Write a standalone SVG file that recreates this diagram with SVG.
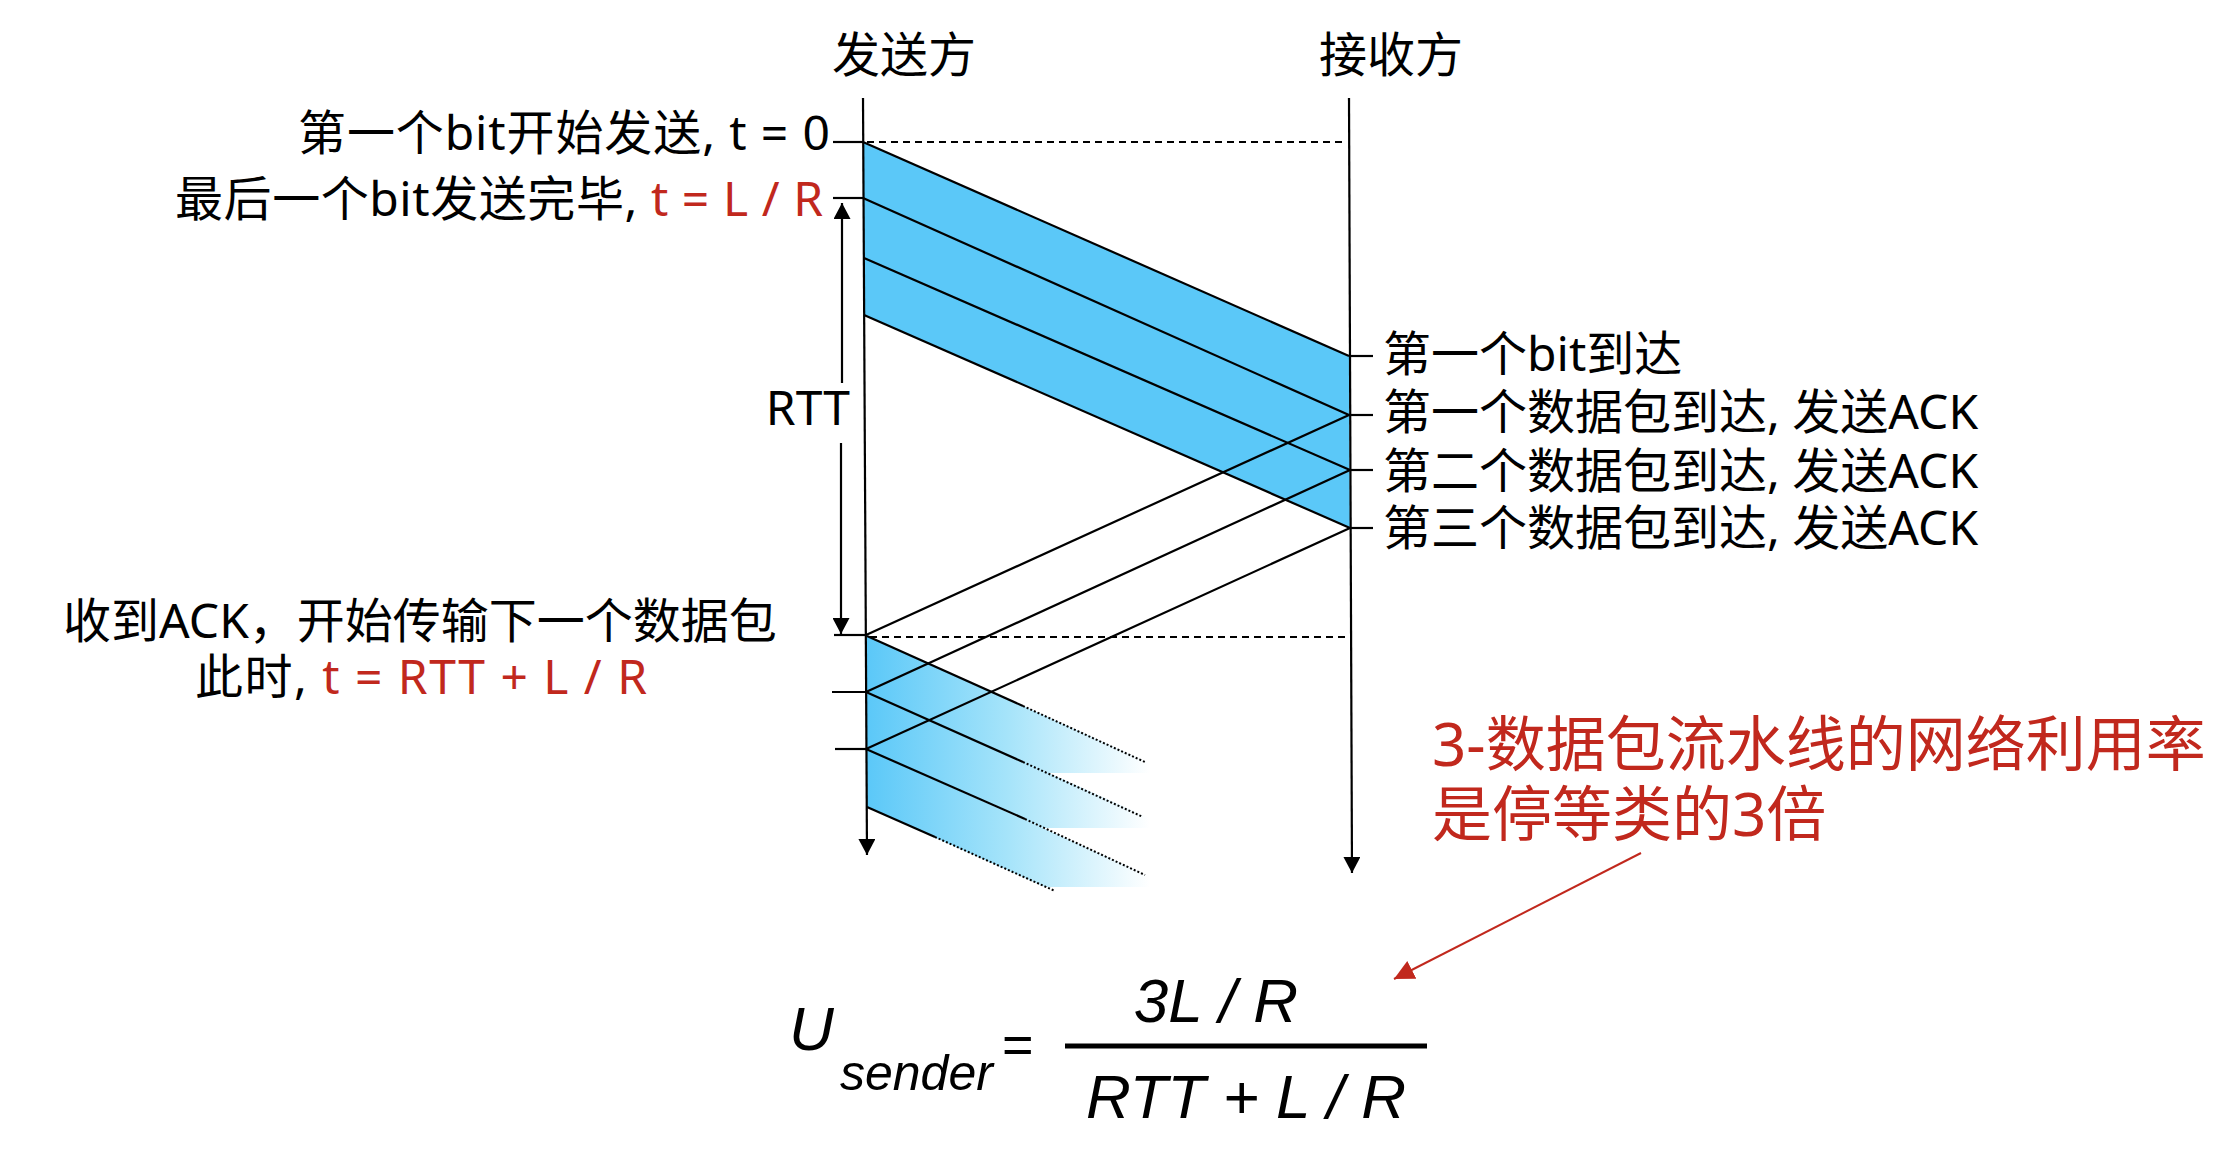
<svg xmlns="http://www.w3.org/2000/svg" width="2228" height="1150" viewBox="0 0 2228 1150">
<style>
.t{font-family:'Noto Sans','Noto Sans CJK SC',sans-serif;font-size:48px;fill:#000}
.red{fill:#C1281D}
.rt{font-family:'Noto Sans','Noto Sans CJK SC',sans-serif;font-size:60px;fill:#C1281D}
.m{font-family:'Liberation Sans',Arial,sans-serif;font-style:italic;fill:#000}
.ln{stroke:#000;stroke-width:2.2;fill:none}
.dash{stroke:#000;stroke-width:2.2;stroke-dasharray:7 5;fill:none}
.dot{stroke:#000;stroke-width:2;stroke-dasharray:2 2;fill:none}
.band{fill:#5BC8F8;stroke:none}
</style>
<defs>
<marker id="ah" markerUnits="userSpaceOnUse" viewBox="0 0 16 17" refX="16" refY="8.5" markerWidth="16" markerHeight="17" orient="auto">
<path d="M0,0 L16,8.5 L0,17 z" fill="#000"/>
</marker>
<marker id="ahr" markerUnits="userSpaceOnUse" viewBox="0 0 20 20" refX="20" refY="10" markerWidth="20" markerHeight="20" orient="auto">
<path d="M0,0 L20,10 L0,20 z" fill="#C1281D"/>
</marker>
<linearGradient id="fade" gradientUnits="userSpaceOnUse" x1="867" y1="0" x2="1150" y2="0">
<stop offset="0" stop-color="#5BC8F8"/>
<stop offset="0.5" stop-color="#A6E4FA"/>
<stop offset="1" stop-color="#FFFFFF"/>
</linearGradient>
</defs>
<rect width="2228" height="1150" fill="#fff"/>

<g id="packets-fill">
<polygon class="band" points="863,142 1349,356 1350,528 864,315"/>
<polygon fill="url(#fade)" points="867,636 1150,763 1150,773 1047,773 866,692"/>
<polygon fill="url(#fade)" points="866,692 1150,818 1150,828 1043,828 866,749"/>
<polygon fill="url(#fade)" points="866,749 1150,876 1150,887 1045,887 867,807"/>
</g>

<g id="sender">
<line class="ln" x1="863" y1="98" x2="867" y2="855" marker-end="url(#ah)"/>
<text class="t" x="904" y="72" text-anchor="middle">发送方</text>
</g>
<g id="receiver">
<line class="ln" x1="1349" y1="98" x2="1352" y2="873" marker-end="url(#ah)"/>
<text class="t" x="1391" y="72" text-anchor="middle">接收方</text>
</g>

<g id="connectors">
<line class="ln" x1="863" y1="142" x2="1349" y2="356"/>
<line class="ln" x1="863" y1="198" x2="1349" y2="415"/>
<line class="ln" x1="864" y1="258" x2="1350" y2="470"/>
<line class="ln" x1="864" y1="315" x2="1350" y2="528"/>
<line class="ln" x1="1349" y1="415" x2="866" y2="635"/>
<line class="ln" x1="1350" y1="470" x2="866" y2="692"/>
<line class="ln" x1="1350" y1="528" x2="866" y2="749"/>
<line class="ln" x1="867" y1="636" x2="1023" y2="706"/>
<line class="dot" x1="1023" y1="706" x2="1145" y2="762"/>
<line class="ln" x1="866" y1="692" x2="1023" y2="762"/>
<line class="dot" x1="1023" y1="762" x2="1143" y2="817"/>
<line class="ln" x1="866" y1="749" x2="1025" y2="819"/>
<line class="dot" x1="1025" y1="819" x2="1145" y2="875"/>
<line class="ln" x1="867" y1="807" x2="935" y2="837"/>
<line class="dot" x1="935" y1="837" x2="1055" y2="891"/>
<line class="dash" x1="867" y1="142" x2="1343" y2="142"/>
<line class="dash" x1="870" y1="637" x2="1345" y2="637"/>
<line class="ln" x1="833" y1="142" x2="863" y2="142"/>
<line class="ln" x1="833" y1="198" x2="863" y2="198"/>
<line class="ln" x1="834" y1="635" x2="866" y2="635"/>
<line class="ln" x1="832" y1="692" x2="866" y2="692"/>
<line class="ln" x1="835" y1="749" x2="866" y2="749"/>
<line class="ln" x1="1349" y1="356" x2="1373" y2="356"/>
<line class="ln" x1="1349" y1="415" x2="1373" y2="415"/>
<line class="ln" x1="1350" y1="470" x2="1373" y2="470"/>
<line class="ln" x1="1350" y1="528" x2="1373" y2="528"/>
<line class="ln" x1="842" y1="383" x2="842" y2="203" marker-end="url(#ah)"/>
<line class="ln" x1="841" y1="443" x2="841" y2="634" marker-end="url(#ah)"/>
<line x1="1641" y1="853" x2="1394" y2="979" stroke="#C1281D" stroke-width="2" marker-end="url(#ahr)"/>
</g>

<g id="label-t0"><text class="t" x="830" y="150" text-anchor="end" textLength="532">第一个bit开始发送, t = 0</text></g>
<g id="label-tLR"><text class="t" x="823" y="216" text-anchor="end" textLength="648">最后一个bit发送完毕, <tspan class="red">t = L / R</tspan></text></g>
<g id="label-rtt"><text class="t" x="850" y="425" text-anchor="end">RTT</text></g>
<g id="label-ack"><text class="t" x="420" y="638" text-anchor="middle">收到ACK，开始传输下一个数据包</text>
<text class="t" x="421" y="694" text-anchor="middle" textLength="452">此时, <tspan class="red">t = RTT + L / R</tspan></text></g>

<g id="label-r1"><text class="t" x="1383" y="371">第一个bit到达</text></g>
<g id="label-r2"><text class="t" x="1383" y="429">第一个数据包到达, 发送ACK</text></g>
<g id="label-r3"><text class="t" x="1383" y="488">第二个数据包到达, 发送ACK</text></g>
<g id="label-r4"><text class="t" x="1383" y="545">第三个数据包到达, 发送ACK</text></g>

<g id="note"><text class="rt" x="1432" y="766">3-数据包流水线的网络利用率</text>
<text class="rt" x="1432" y="836">是停等类的3倍</text></g>

<g id="formula">
<text class="m" x="789" y="1050" font-size="62">U</text>
<text class="m" x="840" y="1090" font-size="50">sender</text>
<text x="1002" y="1063" font-size="54" style="font-family:'Liberation Sans',Arial,sans-serif">=</text>
<text class="m" x="1216" y="1022" font-size="62" text-anchor="middle">3L / R</text>
<line x1="1065" y1="1046" x2="1427" y2="1046" stroke="#000" stroke-width="5"/>
<text class="m" x="1246" y="1118" font-size="62" text-anchor="middle">RTT + L / R</text>
</g>
</svg>
